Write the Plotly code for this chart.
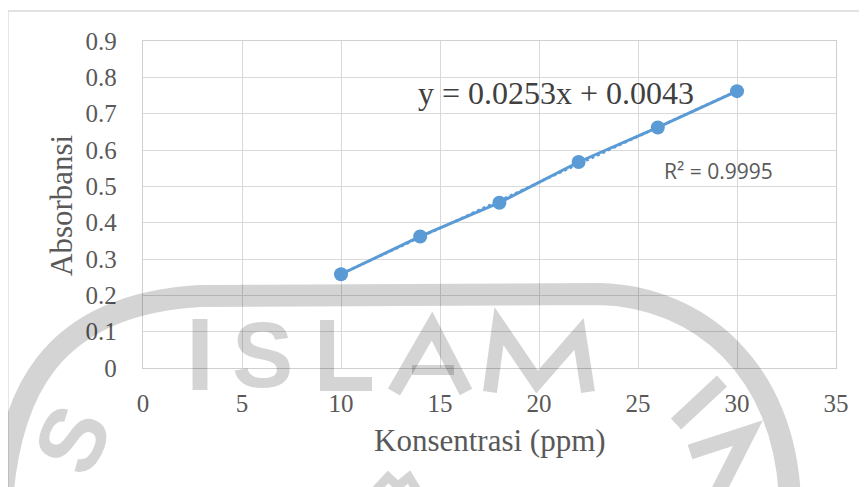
import numpy as np
import plotly.graph_objects as go

# ---- data ----
konsentrasi = [10, 14, 18, 22, 26, 30]
absorbansi = [0.258, 0.362, 0.455, 0.567, 0.662, 0.762]
x_ticks = [0, 5, 10, 15, 20, 25, 30, 35]
y_ticks = [0, 0.1, 0.2, 0.3, 0.4, 0.5, 0.6, 0.7, 0.8, 0.9]
y_tick_labels = ["0", "0.1", "0.2", "0.3", "0.4", "0.5", "0.6", "0.7", "0.8", "0.9"]
x_title = "Konsentrasi (ppm)"
y_title = "Absorbansi"
equation_text = "y = 0.0253x + 0.0043"
r2_text = "R² = 0.9995"

# ---- geometry (screen pixels; the page body adds an 8px offset) ----
OFF = 8
W, H = 867, 487
PLOT_L, PLOT_R, PLOT_T, PLOT_B = 143, 836, 41, 368   # on screen
ML = PLOT_L - OFF
MT = PLOT_T - OFF
MR = W - (PLOT_R - OFF)
MB = H - (PLOT_B - OFF)
PW = PLOT_R - PLOT_L
PH = PLOT_B - PLOT_T


def px(x):
    return (x - PLOT_L) / PW


def py(y):
    return (PLOT_B - y) / PH


def pt(x, y):
    return f"{px(x):.5f},{py(y):.5f}"


def poly(points):
    s = "M " + pt(*points[0])
    for p in points[1:]:
        s += " L " + pt(*p)
    return s


BLUE = "#5B9BD5"
GREY_TXT = "#595959"
WM = "rgba(0,0,0,0.17)"

slope, intercept = np.polyfit(konsentrasi, absorbansi, 1)
trend_x = [min(konsentrasi), max(konsentrasi)]
trend_y = [slope * v + intercept for v in trend_x]

fig = go.Figure()
fig.add_trace(go.Scatter(
    x=konsentrasi, y=absorbansi, mode="lines+markers",
    line=dict(color=BLUE, width=3),
    marker=dict(color=BLUE, size=14),
    showlegend=False, hoverinfo="skip",
))
fig.add_trace(go.Scatter(
    x=trend_x, y=trend_y, mode="lines",
    line=dict(color=BLUE, width=2.5, dash="dot"),
    showlegend=False, hoverinfo="skip",
))

shapes = []
# outer chart border
shapes.append(dict(type="rect", xref="paper", yref="paper",
                   x0=px(8), x1=px(900), y0=py(11), y1=py(520),
                   line=dict(color="#d9d9d9", width=1.3), layer="below"))

# watermark: big arc
arc = ("M " + pt(2, 500) + " C " + pt(10, 400) + " " + pt(45, 305) + " " + pt(200, 296)
       + " L " + pt(600, 294) + " C " + pt(700, 297) + " " + pt(785, 370) + " " + pt(790, 500))
wm_paths = [
    (arc, 22),
    (poly([(200, 319), (200, 390)]), 15),  # I
    (poly([(327, 320), (327, 384), (372, 384)]), 14),  # L
    (poly([(394, 392), (432, 326), (466, 392)]), 14),  # A
    (poly([(412, 370), (454, 370)]), 10),  # A bar
    (poly([(490, 392), (499, 326), (537, 382), (579, 334), (588, 392)]), 14),  # M
    (poly([(722, 381), (676, 424)]), 15),
    (poly([(690, 452), (748, 433), (718, 492)]), 15),
    (poly([(374, 492), (388, 477), (398, 486), (409, 477), (418, 492)]), 9),
]
for d, w in wm_paths:
    shapes.append(dict(type="path", xref="paper", yref="paper", path=d,
                       line=dict(color=WM, width=w), layer="above"))

annotations = [
    dict(text=equation_text, x=px(556), y=py(93), xref="paper", yref="paper",
         showarrow=False, xanchor="center", yanchor="middle",
         font=dict(family="Liberation Serif", size=32, color="#404040")),
    dict(text=r2_text, x=px(718), y=py(171), xref="paper", yref="paper",
         showarrow=False, xanchor="center", yanchor="middle",
         font=dict(family="Open Sans", size=21, color=GREY_TXT)),
    dict(text=y_title, x=px(62), y=py(205), xref="paper", yref="paper",
         showarrow=False, xanchor="center", yanchor="middle", textangle=-90,
         font=dict(family="Liberation Serif", size=31, color=GREY_TXT)),
    dict(text=x_title, x=px(490), y=py(440), xref="paper", yref="paper",
         showarrow=False, xanchor="center", yanchor="middle",
         font=dict(family="Liberation Serif", size=31, color=GREY_TXT)),
    # watermark letters
    dict(text="<b>S</b>", x=px(262), y=py(355), xref="paper", yref="paper",
         showarrow=False, xanchor="center", yanchor="middle",
         font=dict(family="Liberation Sans", size=92, color=WM)),
    dict(text="<b>S</b>", x=px(72), y=py(440), xref="paper", yref="paper",
         showarrow=False, xanchor="center", yanchor="middle", textangle=-65,
         font=dict(family="Liberation Sans", size=92, color=WM)),
]

fig.update_layout(
    width=W, height=H,
    margin=dict(l=ML, r=MR, t=MT, b=MB, pad=0),
    paper_bgcolor="white", plot_bgcolor="white",
    shapes=shapes, annotations=annotations,
    xaxis=dict(range=[0, 35], tickvals=x_ticks, ticktext=[str(v) for v in x_ticks],
               showgrid=True, gridcolor="#d9d9d9", gridwidth=1.3,
               showline=True, linecolor="#cfcfcf", linewidth=1.3, mirror=True,
               zeroline=False, ticks="", ticklabelstandoff=13,
               tickfont=dict(family="Liberation Serif", size=25, color=GREY_TXT)),
    yaxis=dict(range=[0, 0.9], tickvals=y_ticks, ticktext=y_tick_labels,
               showgrid=True, gridcolor="#d9d9d9", gridwidth=1.3,
               showline=True, linecolor="#cfcfcf", linewidth=1.3, mirror=True,
               zeroline=False, ticks="", ticklabelstandoff=20,
               tickfont=dict(family="Liberation Serif", size=25, color=GREY_TXT)),
)

fig.write_html("out.html")
